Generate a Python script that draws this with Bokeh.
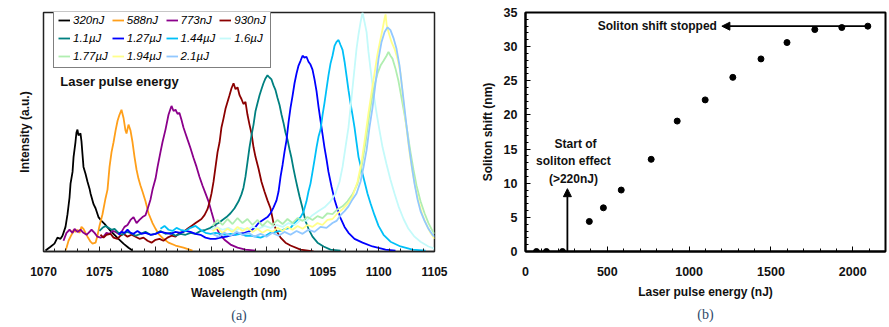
from bokeh.plotting import figure
from bokeh.layouts import row
from bokeh.models import (Range1d, SingleIntervalTicker, FixedTicker, Legend, LegendItem,
                          Label, Arrow, NormalHead)
from bokeh.embed import file_html
from bokeh.resources import INLINE

# ---------------- data: panel (a) spectra ----------------
wl_320 = [1070.18, 1070.63, 1070.98, 1071.25, 1071.52, 1071.70, 1071.97, 1072.15, 1072.33, 1072.42, 1072.60, 1072.69,
          1072.86, 1072.95, 1073.04, 1073.13, 1073.31, 1073.40, 1073.49, 1073.58, 1073.76, 1073.94, 1074.12, 1074.21,
          1074.48, 1074.66, 1074.92, 1075.19, 1075.55, 1075.91, 1076.27, 1076.71, 1077.16, 1077.61, 1077.97]
in_320 = [0.004, 0.020, 0.033, 0.058, 0.053, 0.066, 0.103, 0.156, 0.226, 0.284, 0.333, 0.395,
          0.457, 0.498, 0.510, 0.486, 0.494, 0.461, 0.407, 0.354, 0.325, 0.292, 0.263, 0.243,
          0.198, 0.181, 0.144, 0.128, 0.111, 0.091, 0.074, 0.053, 0.033, 0.016, 0.004]

wl_588 = [1071.97, 1072.06, 1072.24, 1072.42, 1072.60, 1072.69, 1072.86, 1073.04, 1073.22, 1073.40, 1073.58, 1073.76,
          1073.94, 1074.21, 1074.39, 1074.66, 1074.83, 1075.01, 1075.28, 1075.55, 1075.73, 1075.91, 1076.09, 1076.27,
          1076.45, 1076.63, 1076.80, 1076.98, 1077.16, 1077.34, 1077.43, 1077.61, 1077.79, 1077.97, 1078.15, 1078.33,
          1078.50, 1078.68, 1078.86, 1079.13, 1079.40, 1079.76, 1080.03, 1080.29, 1080.74, 1081.19, 1081.82, 1082.53,
          1083.34]
in_588 = [0.004, 0.016, 0.045, 0.062, 0.078, 0.091, 0.082, 0.091, 0.078, 0.103, 0.095, 0.078,
          0.062, 0.041, 0.033, 0.037, 0.066, 0.107, 0.156, 0.222, 0.259, 0.354, 0.416, 0.457,
          0.506, 0.547, 0.572, 0.593, 0.560, 0.506, 0.494, 0.531, 0.506, 0.457, 0.395, 0.342,
          0.305, 0.276, 0.251, 0.210, 0.160, 0.119, 0.095, 0.074, 0.053, 0.037, 0.025, 0.016,
          0.004]

wl_773 = [1071.79, 1072.06, 1072.33, 1072.60, 1072.78, 1073.04, 1073.31, 1073.58, 1073.85, 1074.03, 1074.30, 1074.57,
          1074.83, 1075.10, 1075.37, 1075.64, 1075.91, 1076.18, 1076.45, 1076.71, 1076.98, 1077.25, 1077.52, 1077.79,
          1078.06, 1078.33, 1078.59, 1078.86, 1079.13, 1079.31, 1079.58, 1079.76, 1080.03, 1080.21, 1080.47, 1080.65,
          1080.92, 1081.19, 1081.37, 1081.46, 1081.64, 1081.82, 1082.00, 1082.17, 1082.35, 1082.53, 1082.71, 1082.89,
          1083.16, 1083.43, 1083.70, 1083.96, 1084.23, 1084.50, 1084.77, 1085.04, 1085.40, 1085.76, 1086.20, 1086.74,
          1087.37, 1088.08, 1088.98]
in_773 = [0.045, 0.078, 0.091, 0.078, 0.095, 0.082, 0.091, 0.078, 0.070, 0.078, 0.091, 0.078,
          0.062, 0.058, 0.062, 0.078, 0.074, 0.086, 0.082, 0.074, 0.082, 0.103, 0.111, 0.132,
          0.144, 0.119, 0.132, 0.144, 0.152, 0.177, 0.218, 0.259, 0.305, 0.354, 0.416, 0.457,
          0.510, 0.572, 0.597, 0.609, 0.588, 0.593, 0.576, 0.580, 0.551, 0.519, 0.494, 0.469,
          0.432, 0.391, 0.354, 0.313, 0.276, 0.243, 0.210, 0.165, 0.107, 0.074, 0.049, 0.029,
          0.016, 0.008, 0.004]

wl_930 = [1075.10, 1075.37, 1075.64, 1076.00, 1076.27, 1076.62, 1076.89, 1077.16, 1077.52, 1077.88, 1078.24, 1078.59,
          1078.95, 1079.31, 1079.67, 1080.03, 1080.38, 1080.74, 1081.10, 1081.46, 1081.82, 1082.17, 1082.53, 1082.89,
          1083.25, 1083.61, 1083.88, 1084.14, 1084.41, 1084.68, 1084.86, 1085.04, 1085.22, 1085.40, 1085.58, 1085.76,
          1085.93, 1086.11, 1086.29, 1086.47, 1086.65, 1086.83, 1087.01, 1087.19, 1087.37, 1087.55, 1087.72, 1087.90,
          1088.08, 1088.26, 1088.44, 1088.62, 1088.80, 1088.98, 1089.25, 1089.51, 1089.78, 1090.05, 1090.32, 1090.59,
          1090.86, 1091.22, 1091.66, 1092.11, 1093.01, 1094.17]
in_930 = [0.070, 0.058, 0.070, 0.074, 0.058, 0.053, 0.066, 0.074, 0.062, 0.070, 0.062, 0.053,
          0.058, 0.045, 0.037, 0.049, 0.053, 0.045, 0.058, 0.066, 0.062, 0.078, 0.082, 0.095,
          0.107, 0.119, 0.128, 0.136, 0.152, 0.177, 0.206, 0.243, 0.292, 0.354, 0.416, 0.457,
          0.519, 0.556, 0.597, 0.626, 0.654, 0.683, 0.704, 0.679, 0.687, 0.654, 0.638, 0.617,
          0.626, 0.572, 0.531, 0.494, 0.436, 0.395, 0.346, 0.292, 0.251, 0.214, 0.181, 0.119,
          0.086, 0.058, 0.037, 0.025, 0.008, 0.000]

wl_1100 = [1075.01, 1075.28, 1075.55, 1075.82, 1076.09, 1076.36, 1076.71, 1077.07, 1077.43, 1077.79, 1078.24, 1078.68,
           1079.13, 1079.58, 1080.03, 1080.47, 1080.92, 1081.37, 1081.82, 1082.26, 1082.71, 1083.16, 1083.61, 1084.05,
           1084.50, 1084.95, 1085.31, 1085.67, 1086.02, 1086.38, 1086.74, 1087.10, 1087.46, 1087.72, 1087.90, 1088.08,
           1088.26, 1088.44, 1088.62, 1088.80, 1088.98, 1089.16, 1089.34, 1089.51, 1089.69, 1089.87, 1090.05, 1090.23,
           1090.41, 1090.59, 1090.77, 1090.95, 1091.13, 1091.31, 1091.48, 1091.66, 1091.84, 1092.02, 1092.20, 1092.38,
           1092.56, 1092.74, 1092.92, 1093.19, 1093.45, 1093.72, 1094.08, 1094.53, 1095.07, 1095.69, 1096.59]
in_1100 = [0.086, 0.099, 0.107, 0.099, 0.091, 0.095, 0.078, 0.070, 0.082, 0.078, 0.066, 0.074,
           0.082, 0.070, 0.074, 0.086, 0.074, 0.078, 0.066, 0.074, 0.070, 0.078, 0.074, 0.086,
           0.091, 0.099, 0.111, 0.119, 0.132, 0.144, 0.160, 0.181, 0.210, 0.239, 0.267, 0.313,
           0.374, 0.436, 0.486, 0.531, 0.588, 0.621, 0.654, 0.679, 0.704, 0.724, 0.737, 0.728,
           0.720, 0.695, 0.675, 0.642, 0.613, 0.572, 0.539, 0.498, 0.469, 0.428, 0.391, 0.346,
           0.305, 0.267, 0.230, 0.181, 0.128, 0.095, 0.062, 0.037, 0.021, 0.008, 0.004]

wl_1270 = [1076.71, 1076.98, 1077.25, 1077.52, 1077.79, 1078.06, 1078.41, 1078.77, 1079.13, 1079.58, 1080.03, 1080.47,
           1080.92, 1081.37, 1081.82, 1082.26, 1082.71, 1083.16, 1083.61, 1084.05, 1084.50, 1084.95, 1085.40, 1085.84,
           1086.38, 1086.92, 1087.46, 1088.00, 1088.53, 1088.98, 1089.25, 1089.51, 1089.78, 1090.05, 1090.32, 1090.59,
           1090.86, 1091.04, 1091.22, 1091.40, 1091.57, 1091.75, 1091.93, 1092.11, 1092.29, 1092.47, 1092.65, 1092.83,
           1093.01, 1093.19, 1093.36, 1093.54, 1093.72, 1093.90, 1094.08, 1094.26, 1094.44, 1094.62, 1094.80, 1094.98,
           1095.15, 1095.33, 1095.51, 1095.78, 1096.05, 1096.32, 1096.59, 1096.95, 1097.30, 1097.84, 1098.56, 1099.45,
           1100.62, 1101.51]
in_1270 = [0.070, 0.082, 0.078, 0.091, 0.078, 0.074, 0.086, 0.074, 0.078, 0.070, 0.074, 0.082,
           0.078, 0.074, 0.082, 0.078, 0.086, 0.082, 0.074, 0.070, 0.058, 0.053, 0.053, 0.058,
           0.062, 0.070, 0.074, 0.078, 0.086, 0.103, 0.119, 0.128, 0.136, 0.144, 0.160, 0.185,
           0.214, 0.251, 0.313, 0.362, 0.416, 0.465, 0.539, 0.601, 0.650, 0.704, 0.745, 0.778,
           0.798, 0.819, 0.811, 0.815, 0.794, 0.782, 0.761, 0.720, 0.671, 0.605, 0.547, 0.490,
           0.436, 0.387, 0.333, 0.272, 0.218, 0.177, 0.140, 0.103, 0.078, 0.053, 0.037, 0.021,
           0.008, 0.004]

wl_1440 = [1080.47, 1080.83, 1081.19, 1081.55, 1081.91, 1082.26, 1082.71, 1083.16, 1083.61, 1084.05, 1084.50, 1084.95,
           1085.40, 1085.84, 1086.29, 1086.74, 1087.19, 1087.63, 1088.08, 1088.53, 1088.98, 1089.43, 1089.87, 1090.32,
           1090.77, 1091.22, 1091.66, 1092.11, 1092.47, 1092.74, 1093.01, 1093.27, 1093.54, 1093.72, 1093.90, 1094.08,
           1094.26, 1094.44, 1094.62, 1094.80, 1094.98, 1095.15, 1095.33, 1095.51, 1095.69, 1095.87, 1096.05, 1096.23,
           1096.41, 1096.59, 1096.77, 1096.95, 1097.12, 1097.30, 1097.48, 1097.66, 1097.84, 1098.02, 1098.20, 1098.47,
           1098.74, 1099.00, 1099.27, 1099.63, 1099.99, 1100.44, 1101.06, 1101.96, 1103.03, 1104.20]
in_1440 = [0.095, 0.107, 0.091, 0.086, 0.099, 0.091, 0.086, 0.099, 0.107, 0.091, 0.078, 0.074,
           0.078, 0.074, 0.070, 0.074, 0.070, 0.074, 0.066, 0.066, 0.062, 0.058, 0.066, 0.078,
           0.082, 0.086, 0.095, 0.099, 0.119, 0.132, 0.144, 0.165, 0.210, 0.251, 0.284, 0.333,
           0.383, 0.436, 0.481, 0.510, 0.572, 0.621, 0.679, 0.737, 0.786, 0.819, 0.860, 0.877,
           0.885, 0.864, 0.844, 0.794, 0.737, 0.675, 0.621, 0.572, 0.519, 0.457, 0.395, 0.342,
           0.292, 0.243, 0.202, 0.152, 0.107, 0.070, 0.041, 0.021, 0.008, 0.004]

wl_1600 = [1084.95, 1085.49, 1086.02, 1086.56, 1087.10, 1087.63, 1088.17, 1088.71, 1089.25, 1089.78, 1090.32, 1090.86,
           1091.40, 1091.93, 1092.47, 1093.01, 1093.54, 1094.08, 1094.62, 1095.15, 1095.69, 1096.14, 1096.50, 1096.77,
           1097.03, 1097.30, 1097.48, 1097.66, 1097.84, 1098.02, 1098.20, 1098.38, 1098.56, 1098.74, 1098.92, 1099.09,
           1099.27, 1099.54, 1099.81, 1100.08, 1100.35, 1100.70, 1101.06, 1101.42, 1101.78, 1102.23, 1102.67, 1103.21,
           1103.75, 1104.46, 1105.00]
in_1600 = [0.091, 0.103, 0.091, 0.099, 0.086, 0.099, 0.091, 0.103, 0.095, 0.107, 0.099, 0.111,
           0.103, 0.119, 0.111, 0.132, 0.128, 0.152, 0.169, 0.185, 0.210, 0.243, 0.292, 0.354,
           0.436, 0.519, 0.601, 0.683, 0.765, 0.848, 0.909, 0.959, 1.000, 0.959, 0.918, 0.835,
           0.765, 0.663, 0.580, 0.506, 0.436, 0.366, 0.300, 0.243, 0.189, 0.136, 0.095, 0.062,
           0.041, 0.021, 0.012]

wl_1770 = [1085.13, 1085.58, 1086.02, 1086.47, 1086.92, 1087.37, 1087.81, 1088.26, 1088.71, 1089.16, 1089.60, 1090.05,
           1090.50, 1090.95, 1091.40, 1091.84, 1092.29, 1092.74, 1093.19, 1093.63, 1094.08, 1094.53, 1094.98, 1095.42,
           1095.87, 1096.32, 1096.77, 1097.21, 1097.66, 1098.11, 1098.47, 1098.83, 1099.09, 1099.36, 1099.63, 1099.90,
           1100.17, 1100.44, 1100.71, 1100.88, 1101.06, 1101.24, 1101.51, 1101.78, 1102.05, 1102.32, 1102.58, 1102.85,
           1103.12, 1103.39, 1103.75, 1104.11, 1104.46, 1104.82, 1105.00]
in_1770 = [0.107, 0.132, 0.111, 0.136, 0.115, 0.140, 0.119, 0.136, 0.111, 0.132, 0.107, 0.128,
           0.111, 0.132, 0.115, 0.136, 0.119, 0.140, 0.128, 0.144, 0.132, 0.148, 0.140, 0.160,
           0.156, 0.177, 0.189, 0.210, 0.239, 0.284, 0.354, 0.457, 0.547, 0.630, 0.695, 0.745,
           0.778, 0.798, 0.819, 0.835, 0.819, 0.807, 0.765, 0.712, 0.642, 0.572, 0.498, 0.416,
           0.342, 0.276, 0.210, 0.160, 0.119, 0.086, 0.074]

wl_1940 = [1085.13, 1085.58, 1086.02, 1086.47, 1086.92, 1087.37, 1087.81, 1088.26, 1088.71, 1089.16, 1089.60, 1090.05,
           1090.50, 1090.95, 1091.40, 1091.84, 1092.29, 1092.74, 1093.19, 1093.63, 1094.08, 1094.53, 1094.98, 1095.42,
           1095.87, 1096.32, 1096.77, 1097.21, 1097.66, 1098.11, 1098.47, 1098.83, 1099.09, 1099.36, 1099.63, 1099.90,
           1100.17, 1100.35, 1100.53, 1100.62, 1100.71, 1100.88, 1101.15, 1101.42, 1101.69, 1101.96, 1102.23, 1102.49,
           1102.76, 1103.03, 1103.30, 1103.57, 1103.93, 1104.29, 1104.64, 1105.00]
in_1940 = [0.086, 0.099, 0.078, 0.095, 0.082, 0.103, 0.086, 0.099, 0.082, 0.095, 0.078, 0.091,
           0.082, 0.099, 0.086, 0.103, 0.091, 0.107, 0.095, 0.111, 0.103, 0.119, 0.111, 0.132,
           0.136, 0.160, 0.177, 0.198, 0.230, 0.292, 0.374, 0.490, 0.580, 0.663, 0.745, 0.827,
           0.889, 0.930, 0.975, 0.992, 0.951, 0.918, 0.877, 0.848, 0.807, 0.745, 0.621, 0.519,
           0.416, 0.333, 0.267, 0.210, 0.152, 0.111, 0.078, 0.053]

wl_2100 = [1085.13, 1085.67, 1086.20, 1086.74, 1087.28, 1087.81, 1088.35, 1088.89, 1089.43, 1089.96, 1090.50, 1091.04,
           1091.57, 1092.11, 1092.65, 1093.19, 1093.72, 1094.26, 1094.80, 1095.33, 1095.87, 1096.23, 1096.59, 1096.95,
           1097.30, 1097.66, 1098.02, 1098.38, 1098.65, 1098.92, 1099.18, 1099.45, 1099.72, 1099.99, 1100.26, 1100.53,
           1100.80, 1101.06, 1101.33, 1101.60, 1101.87, 1102.14, 1102.41, 1102.67, 1102.94, 1103.21, 1103.48, 1103.75,
           1104.11, 1104.46, 1104.82, 1105.00]
in_2100 = [0.074, 0.062, 0.078, 0.066, 0.082, 0.070, 0.078, 0.062, 0.074, 0.062, 0.078, 0.066,
           0.082, 0.070, 0.086, 0.074, 0.091, 0.082, 0.103, 0.099, 0.119, 0.128, 0.152, 0.169,
           0.189, 0.218, 0.243, 0.292, 0.354, 0.424, 0.519, 0.601, 0.704, 0.807, 0.877, 0.918,
           0.938, 0.926, 0.893, 0.848, 0.778, 0.671, 0.560, 0.457, 0.366, 0.284, 0.218, 0.169,
           0.128, 0.095, 0.070, 0.062]

series_labels = ["320nJ", "588nJ", "773nJ", "930nJ", "1.1µJ", "1.27µJ", "1.44µJ", "1.6µJ",
                 "1.77µJ", "1.94µJ", "2.1µJ"]
series_colors = ["#000000", "#FF9F1A", "#8B008B", "#8B0000", "#008080", "#0000FF", "#00C0F8", "#C4FAFA",
                 "#B0EEB0", "#FFFF8A", "#92C8FF"]
series_wl = [wl_320, wl_588, wl_773, wl_930, wl_1100, wl_1270, wl_1440, wl_1600, wl_1770, wl_1940, wl_2100]
series_in = [in_320, in_588, in_773, in_930, in_1100, in_1270, in_1440, in_1600, in_1770, in_1940, in_2100]

wl_ticks_interval = 5

# ---------------- data: panel (b) soliton shift ----------------
pulse_energy = [67, 128, 226, 390, 476, 585, 768, 927, 1098, 1267, 1439, 1598, 1768, 1933, 2092]
soliton_shift = [0.0, 0.0, 0.0, 4.4, 6.4, 9.0, 13.5, 19.1, 22.2, 25.5, 28.2, 30.6, 32.5, 32.8, 33.0]

stop_arrow_x = [2092, 1200]
stop_arrow_y = 33.0
start_arrow_x = 256
start_arrow_y = [0.0, 9.2]

FONT = "Liberation Sans"

# ================= panel (a) =================
pa = figure(width=450, height=327, x_range=Range1d(1070, 1105), y_range=Range1d(0, 1.0),
            output_backend="svg", toolbar_location=None, title="(a)", title_location="below",
            min_border_left=43, min_border_right=16, min_border_top=7, min_border_bottom=76)
pa.grid.visible = False
pa.outline_line_color = "#222222"
pa.outline_line_width = 1.5
pa.background_fill_color = "white"
pa.border_fill_color = "white"

items = []
for lab, col, xs, ys in zip(series_labels, series_colors, series_wl, series_in):
    r = pa.line(xs, ys, line_color=col, line_width=1.8)
    items.append(LegendItem(label=lab, renderers=[r]))

pa.xaxis.ticker = SingleIntervalTicker(interval=wl_ticks_interval, num_minor_ticks=5)
pa.xaxis.axis_label = "Wavelength (nm)"
pa.yaxis.ticker = FixedTicker(ticks=[])
pa.yaxis.axis_label = "Intensity (a.u.)"
pa.yaxis.axis_line_color = None
for ax in (pa.xaxis[0], pa.yaxis[0]):
    ax.axis_label_text_font = FONT
    ax.axis_label_text_font_style = "bold"
    ax.axis_label_text_font_size = "12px"
    ax.axis_label_text_color = "#111111"
    ax.major_label_text_font = FONT
    ax.major_label_text_font_style = "bold"
    ax.major_label_text_font_size = "12px"
    ax.major_label_text_color = "#111111"
    ax.major_tick_in = 5
    ax.major_tick_out = 0
    ax.minor_tick_in = 3
    ax.minor_tick_out = 0
    ax.major_tick_line_color = "#222222"
    ax.minor_tick_line_color = "#222222"
pa.xaxis.axis_line_color = "#222222"
pa.xaxis.axis_line_width = 1.5
pa.xaxis.major_label_standoff = 15
pa.xaxis.axis_label_standoff = 7
pa.yaxis.axis_label_standoff = 12

legend = Legend(items=items, location=(10, 183), orientation="horizontal", ncols=4,
                label_text_font=FONT, label_text_font_style="italic", label_text_font_size="11.5px",
                label_text_color="#000000",
                glyph_width=12, glyph_height=14, label_height=14, label_standoff=3,
                spacing=4, padding=4, margin=0,
                border_line_color="black", border_line_width=1.2, background_fill_alpha=1.0)
pa.add_layout(legend)

pa.add_layout(Label(x=1071.5, y=0.712, text="Laser pulse energy", text_font=FONT, text_font_style="bold",
                    text_font_size="13px", text_baseline="middle", text_color="#111111"))

pa.title.align = "center"
pa.title.text_font = "Liberation Serif"
pa.title.text_font_style = "normal"
pa.title.text_font_size = "14px"
pa.title.text_color = "#2F4A6A"
pa.title.standoff = 6

# ================= panel (b) =================
pb = figure(width=439, height=327, x_range=Range1d(0, 2200), y_range=Range1d(0, 35),
            output_backend="svg", toolbar_location=None, title="(b)", title_location="below",
            min_border_left=75, min_border_right=4, min_border_top=12, min_border_bottom=74)
pb.grid.visible = False
pb.outline_line_color = "black"
pb.outline_line_width = 2
pb.scatter(pulse_energy, soliton_shift, size=6, color="black")

pb.xaxis.ticker = SingleIntervalTicker(interval=500, num_minor_ticks=5)
pb.yaxis.ticker = SingleIntervalTicker(interval=5, num_minor_ticks=5)
pb.xaxis.axis_label = "Laser pulse energy (nJ)"
pb.yaxis.axis_label = "Soliton shift (nm)"
for ax in (pb.xaxis[0], pb.yaxis[0]):
    ax.axis_label_text_font = FONT
    ax.axis_label_text_font_style = "bold"
    ax.axis_label_text_font_size = "12px"
    ax.axis_label_text_color = "#111111"
    ax.major_label_text_font = FONT
    ax.major_label_text_font_style = "bold"
    ax.major_label_text_font_size = "12.5px"
    ax.major_label_text_color = "#111111"
    ax.axis_line_color = "black"
    ax.axis_line_width = 2
    ax.major_tick_in = 5
    ax.major_tick_out = 0
    ax.minor_tick_in = 3
    ax.minor_tick_out = 0
    ax.major_tick_line_color = "black"
    ax.minor_tick_line_color = "black"
pb.xaxis.major_label_standoff = 15
pb.xaxis.axis_label_standoff = 6
pb.yaxis.major_label_standoff = 8
pb.yaxis.axis_label_standoff = 6

pb.add_layout(Arrow(end=NormalHead(size=8, fill_color="black", line_color="black"),
                    x_start=stop_arrow_x[0], y_start=stop_arrow_y, x_end=stop_arrow_x[1], y_end=stop_arrow_y,
                    line_color="black", line_width=1.8))
pb.add_layout(Arrow(end=NormalHead(size=8, fill_color="black", line_color="black"),
                    x_start=start_arrow_x, y_start=start_arrow_y[0], x_end=start_arrow_x, y_end=start_arrow_y[1],
                    line_color="black", line_width=1.8))

def txt(x, y, s, align):
    pb.add_layout(Label(x=x, y=y, text=s, text_font=FONT, text_font_style="bold", text_font_size="12px",
                        text_align=align, text_baseline="middle", text_color="#111111"))

txt(1170, 33.05, "Soliton shift stopped", "right")
txt(306, 15.7, "Start of", "center")
txt(293, 13.2, "soliton effect", "center")
txt(293, 10.6, "(>220nJ)", "center")

pb.title.align = "center"
pb.title.text_font = "Liberation Serif"
pb.title.text_font_style = "normal"
pb.title.text_font_size = "14px"
pb.title.text_color = "#2F4A6A"
pb.title.standoff = 6

layout = row(pa, pb)
open("out.html", "w").write(file_html(layout, INLINE))
